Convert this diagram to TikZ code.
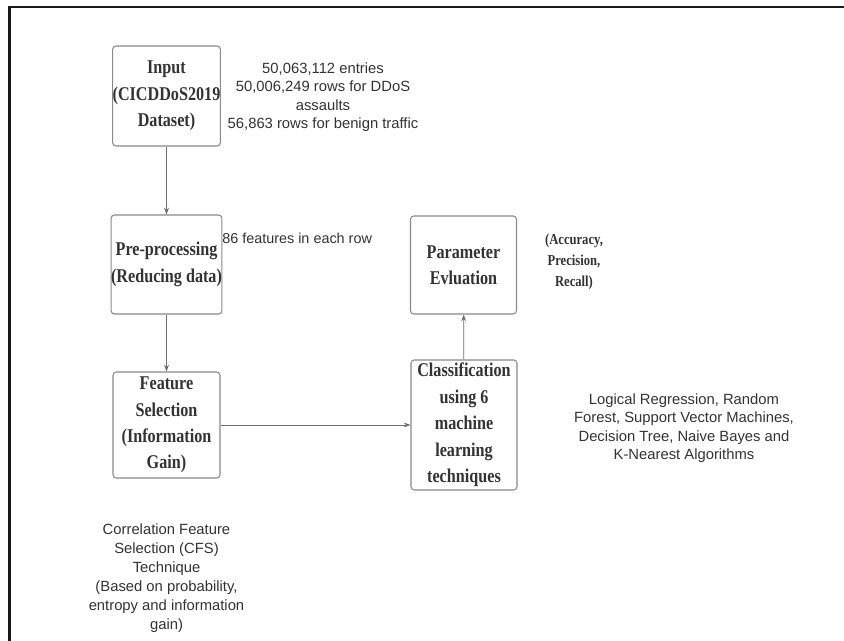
\documentclass[tikz,border=0pt]{standalone}
\usepackage{fontspec}
\setmainfont{Liberation Serif}
\setsansfont{Liberation Sans}
\newfontfamily\boxfont[FakeStretch=0.83]{Liberation Serif}
\usetikzlibrary{arrows.meta}
\definecolor{boxline}{HTML}{8A8A8A}
\definecolor{txt}{HTML}{333333}
\definecolor{conn}{HTML}{6E6E6E}
\begin{document}
\begin{tikzpicture}[x=0.75pt,y=-0.75pt,
  boxnode/.style={draw=boxline, line width=0.8pt, rounded corners=2.5pt, fill=white,
    inner sep=0pt, align=center, text=txt,
    font=\boxfont\bfseries\fontsize{14.6}{19.8}\selectfont},
  notesans/.style={align=center, text=txt, inner sep=0pt,
    font=\sffamily\fontsize{11.1}{13.9}\selectfont},
  noteserif/.style={align=center, text=txt, inner sep=0pt,
    font=\boxfont\bfseries\fontsize{11.4}{15.8}\selectfont},
  conn/.style={draw=conn, line width=0.6pt, -{Stealth[length=5pt,width=3.6pt]}}]
\useasboundingbox (0,0) rectangle (844,641);
\fill[white] (0,0) rectangle (844,641);
\draw[line width=1.6pt, color=black!90] (9.5,641) -- (9.5,7) -- (844,7);

\node[boxnode, minimum width=80.25pt, minimum height=75pt] (in) at (166.5,96) {Input\\(CICDDoS2019\\Dataset)};
\node[boxnode, minimum width=80.25pt, minimum height=74.25pt] (pre) at (166.5,264.5) {Pre-processing\\(Reducing data)};
\node[boxnode, minimum width=80.25pt, minimum height=79.5pt] (fs) at (166.5,425) {Feature\\Selection\\(Information\\Gain)};
\node[boxnode, minimum width=79.5pt, minimum height=73.5pt] (par) at (463.5,265) {Parameter\\Evluation};
\node[boxnode, minimum width=79.5pt, minimum height=97.5pt] (cls) at (464,425) {Classification\\using 6\\machine\\learning\\techniques};

\node[notesans] (innote) at (323,97) {50,063,112 entries\\50,006,249 rows for DDoS\\assaults\\56,863 rows for benign traffic};
\node[notesans, anchor=west, font=\sffamily\fontsize{10.8}{13}\selectfont] (prenote) at (222,238) {86 features in each row};
\node[noteserif] (parnote) at (574,262) {(Accuracy,\\Precision,\\Recall)};
\node[notesans] (clsnote) at (684,428) {Logical Regression, Random\\Forest, Support Vector Machines,\\Decision Tree, Naive Bayes and\\K-Nearest Algorithms};
\node[notesans, font=\sffamily\fontsize{11.1}{14.2}\selectfont] (fsnote) at (166.5,578) {Correlation Feature\\Selection (CFS)\\Technique\\(Based on probability,\\entropy and information\\gain)};

\draw[conn] (in) -- (pre);
\draw[conn] (pre) -- (fs);
\draw[conn] (fs) -- (cls);
\draw[conn] (cls) -- (par);
\end{tikzpicture}
\end{document}
